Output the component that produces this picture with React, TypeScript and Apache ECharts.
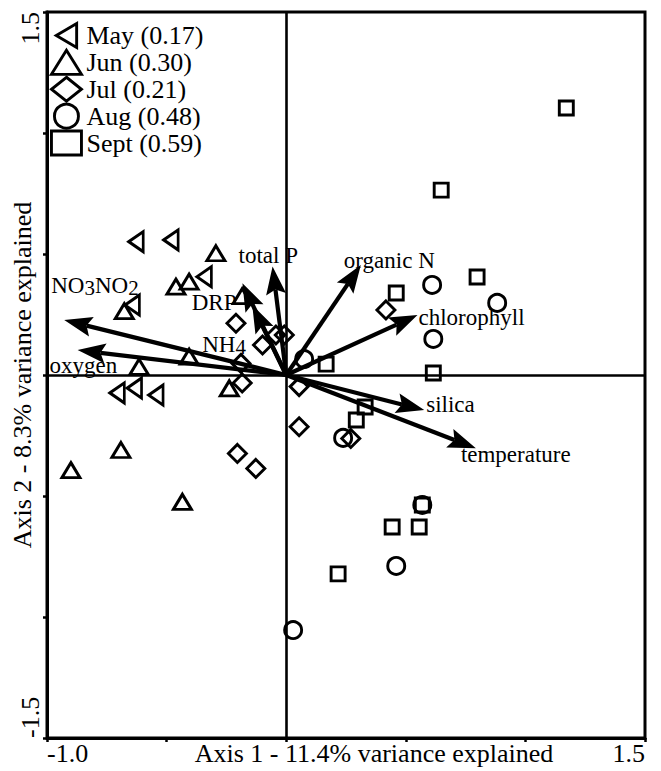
import React, { useEffect, useRef } from "react";
import * as echarts from "echarts";

// ---- data ----
const months = ["May", "Jun", "Jul", "Aug", "Sept"];
const monthR = ["0.17", "0.30", "0.21", "0.48", "0.59"];

const mayPoints = [
  [-0.628, 0.551], [-0.482, 0.558], [-0.343, 0.406], [-0.644, 0.289],
  [-0.707, -0.074], [-0.635, -0.054], [-0.545, -0.083],
];
const junPoints = [
  [-0.294, 0.503], [-0.461, 0.365], [-0.406, 0.386], [-0.677, 0.264],
  [-0.406, 0.076], [-0.615, 0.034], [-0.238, -0.055], [-0.691, -0.31],
  [-0.9, -0.393], [-0.434, -0.524], [-0.184, 0.326],
];
const julPoints = [
  [-0.21, 0.214], [-0.099, 0.124], [-0.043, 0.165], [-0.008, 0.165],
  [-0.189, 0.048], [-0.184, -0.033], [0.054, -0.048], [0.054, -0.214],
  [-0.204, -0.324], [-0.127, -0.386], [0.417, 0.269], [0.27, -0.262],
];
const augPoints = [
  [0.61, 0.372], [0.882, 0.298], [0.615, 0.149], [0.075, 0.066],
  [0.238, -0.26], [0.569, -0.537], [0.46, -0.789], [0.029, -1.054],
];
const septPoints = [
  [1.171, 1.103], [0.648, 0.764], [0.798, 0.405], [0.46, 0.339],
  [0.167, 0.045], [0.615, 0.008], [0.33, -0.132], [0.293, -0.186],
  [0.569, -0.537], [0.443, -0.628], [0.556, -0.628], [0.217, -0.822],
];

const vectorNames = ["NO3NO2", "oxygen", "total P", "DRP", "NH4", "organic N", "chlorophyll", "silica", "temperature"];
const vectorX = [-0.928, -0.872, -0.057, -0.183, -0.142, 0.312, 0.549, 0.577, 0.793];
const vectorY = [0.227, 0.103, 0.448, 0.379, 0.289, 0.455, 0.248, -0.145, -0.303];

const xTickValues = [-1.0, 1.5];
const xTickLabels = ["-1.0", "1.5"];
const yTickValues = [-1.5, 1.5];
const yTickLabels = ["-1.5", "1.5"];

const xAxisTitle = "Axis 1 - 11.4% variance explained";
const yAxisTitle = "Axis 2 - 8.3% variance explained";

// ---- styles ----
const FONT = "'Liberation Serif', 'Times New Roman', serif";
const INK = "#000";
const LEFT_TRI = "path://M0,10 L17,0 L17,20 Z";

const monthSymbols = [
  { symbol: LEFT_TRI, size: [17, 20], legendIcon: LEFT_TRI },
  { symbol: "triangle", size: [18, 15], legendIcon: "triangle" },
  { symbol: "diamond", size: [18, 18], legendIcon: "diamond" },
  { symbol: "circle", size: [17, 17], legendIcon: "circle" },
  { symbol: "rect", size: [14, 14], legendIcon: "rect" },
];

// label placement relative to arrow tip (px): dx, dy, align
const labelLayout: Record<string, [number, number, string]> = {
  NO3NO2: [-13, -35, "left"],
  oxygen: [-28, 15, "left"],
  "total P": [-34, -11, "left"],
  DRP: [-6, 19, "right"],
  NH4: [-50, 39, "left"],
  "organic N": [-17, -4, "left"],
  chlorophyll: [1, 3, "left"],
  silica: [2, -6, "left"],
  temperature: [-15, 6, "left"],
};

const pointSets = [mayPoints, junPoints, julPoints, augPoints, septPoints];

function labelFor(v: number, values: number[], labels: string[]) {
  for (let i = 0; i < values.length; i++) {
    if (Math.abs(v - values[i]) < 1e-9) return labels[i];
  }
  return "";
}

export default function App() {
  const ref = useRef<HTMLDivElement>(null);

  useEffect(() => {
    if (!ref.current) return;
    const chart = echarts.init(ref.current, null, { renderer: "svg" });

    const scatterSeries = months.map((m, i) => ({
      type: "scatter",
      name: `${m} (${monthR[i]})`,
      data: pointSets[i],
      symbol: monthSymbols[i].symbol,
      symbolSize: monthSymbols[i].size,
      symbolKeepAspect: true,
      itemStyle: { color: "rgba(0,0,0,0)", borderColor: INK, borderWidth: 2.9, opacity: 1 },
      emphasis: { disabled: true },
      z: 3,
      ...(i === 0
        ? {
            markLine: {
              silent: true,
              symbol: ["none", "none"],
              label: { show: false },
              lineStyle: { color: INK, width: 2.6, type: "solid", opacity: 1 },
              data: [{ xAxis: 0 }, { yAxis: 0 }],
              animation: false,
            },
          }
        : {}),
    }));

    const arrowSeries = {
      type: "custom",
      name: "vectors",
      data: vectorX.map((x, i) => [x, vectorY[i]]),
      z: 4,
      silent: true,
      renderItem: (params: any, api: any) => {
        const idx = params.dataIndex;
        const o = api.coord([0, 0]);
        const t = api.coord([api.value(0), api.value(1)]);
        const dx = t[0] - o[0];
        const dy = t[1] - o[1];
        const len = Math.hypot(dx, dy) || 1;
        const ux = dx / len;
        const uy = dy / len;
        const L = 28;
        const W = 10;
        const N = 23;
        const bx = t[0] - ux * L;
        const by = t[1] - uy * L;
        const nx = t[0] - ux * N;
        const ny = t[1] - uy * N;
        const name = vectorNames[idx];
        const lay = labelLayout[name] || [4, 0, "left"];
        return {
          type: "group",
          children: [
            {
              type: "line",
              shape: { x1: o[0], y1: o[1], x2: nx, y2: ny },
              style: { stroke: INK, lineWidth: 4.2 },
            },
            {
              type: "polygon",
              shape: {
                points: [
                  [t[0], t[1]],
                  [bx - uy * W, by + ux * W],
                  [nx, ny],
                  [bx + uy * W, by - ux * W],
                ],
              },
              style: { fill: INK },
            },
            {
              type: "text",
              x: t[0] + lay[0],
              y: t[1] + lay[1],
              style: {
                text: name.replace(/(\d)/g, "{s|$1}"),
                fill: INK,
                fontFamily: FONT,
                fontSize: 23,
                lineHeight: 26,
                align: lay[2],
                verticalAlign: "middle",
                rich: {
                  s: { fontFamily: FONT, fontSize: 21, lineHeight: 17, verticalAlign: "bottom", fill: INK },
                },
              },
            },
          ],
        };
      },
    };

    const option: any = {
      animation: false,
      backgroundColor: "#fff",
      grid: {
        left: 47,
        top: 12,
        right: 16,
        bottom: 33,
        containLabel: false,
        outerBoundsMode: "none",
        show: true,
        borderColor: INK,
        borderWidth: 3,
        backgroundColor: "transparent",
      },
      legend: {
        orient: "vertical",
        left: 50,
        top: 22,
        padding: 0,
        itemWidth: 30,
        itemHeight: 24,
        itemGap: 0,
        selectedMode: false,
        textStyle: { fontFamily: FONT, fontSize: 26, color: INK },
        itemStyle: { color: "rgba(0,0,0,0)", borderColor: INK, borderWidth: 2.9, opacity: 1 },
        data: months.map((m, i) => ({ name: `${m} (${monthR[i]})`, icon: monthSymbols[i].legendIcon })),
      },
      xAxis: {
        type: "value",
        min: -1.0,
        max: 1.5,
        interval: 0.5,
        name: xAxisTitle,
        nameLocation: "middle",
        nameGap: 2,
        nameMoveOverlap: false,
        nameTextStyle: {
          fontFamily: FONT,
          fontSize: 26,
          color: INK,
          verticalAlign: "top",
          padding: [0, 0, 0, 56],
        },
        axisLine: { show: true, onZero: false, lineStyle: { color: INK, width: 3 } },
        axisTick: { show: true, length: 4, lineStyle: { color: INK, width: 2.5 } },
        splitLine: { show: false },
        axisLabel: {
          margin: 2,
          fontFamily: FONT,
          fontSize: 26,
          color: INK,
          alignMinLabel: "left",
          alignMaxLabel: "right",
          formatter: (v: number) => labelFor(v, xTickValues, xTickLabels),
        },
      },
      yAxis: {
        type: "value",
        min: -1.5,
        max: 1.5,
        interval: 0.5,
        name: yAxisTitle,
        nameLocation: "middle",
        nameGap: 12,
        nameMoveOverlap: false,
        nameTextStyle: { fontFamily: FONT, fontSize: 26, color: INK },
        axisLine: { show: true, onZero: false, lineStyle: { color: INK, width: 3 } },
        axisTick: { show: true, length: 4, lineStyle: { color: INK, width: 2.5 } },
        splitLine: { show: false },
        axisLabel: {
          rotate: 90,
          margin: 4,
          fontFamily: FONT,
          fontSize: 26,
          color: INK,
          alignMinLabel: "left",
          alignMaxLabel: "right",
          formatter: (v: number) => labelFor(v, yTickValues, yTickLabels),
        },
      },
      series: [...scatterSeries, arrowSeries],
    };

    chart.setOption(option);
    return () => chart.dispose();
  }, []);

  return (
    <div
      ref={ref}
      style={{ position: "absolute", left: 0, top: 0, width: 661, height: 771, background: "#fff" }}
    />
  );
}
